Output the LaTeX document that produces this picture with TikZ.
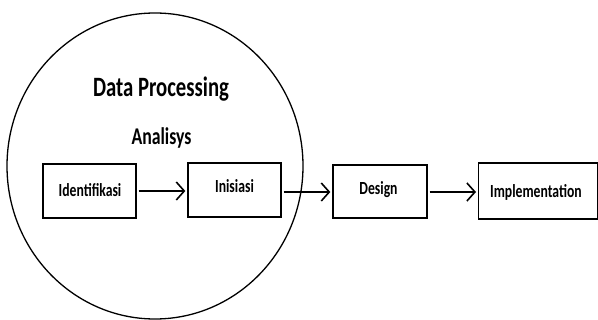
\documentclass[tikz,border=0pt]{standalone}
\usepackage{fontspec}
\usepackage{graphicx}
\setmainfont{Carlito}
\usetikzlibrary{arrows.meta}
\newcommand{\narrow}[1]{\scalebox{0.74}[1]{#1}}
\begin{document}
\begin{tikzpicture}[x=1pt,y=-1pt,
  stage/.style={draw=black, line width=1.3pt, rectangle, inner sep=0pt},
  stagetext/.style={anchor=base, inner sep=0pt, font=\bfseries\fontsize{18.5}{21}\selectfont},
  flow/.style={line width=1.6pt, -{Straight Barb[length=8pt,width=18pt,line width=1.6pt]}},
  title/.style={anchor=base, inner sep=0pt, font=\bfseries\fontsize{28}{32}\selectfont},
  subtitle/.style={anchor=base, inner sep=0pt, font=\bfseries\fontsize{24}{28}\selectfont}]
  \useasboundingbox (0,0) rectangle (598,320);
  % the data processing scope
  \draw[line width=1.3pt] (155,166) ellipse [x radius=148, y radius=153];
  \node[title] (dp) at (161,97) {\narrow{Data Processing}};
  \node[subtitle] (an) at (161.5,145) {\narrow{Analisys}};
  % pipeline stages
  \node[stage, minimum width=93pt, minimum height=54pt] (idf) at (89.5,191) {};
  \node[stage, minimum width=93pt, minimum height=54pt] (ini) at (234.5,190) {};
  \node[stage, minimum width=94pt, minimum height=53pt] (des) at (380,191.5) {};
  \node[stage, minimum width=119pt, minimum height=56pt, anchor=west] (imp) at (478,191) {};
  \node[stagetext] (idft) at (90,197) {\narrow{Identifikasi}};
  \node[stagetext] (init) at (234.5,193) {\narrow{Inisiasi}};
  \node[stagetext] (dest) at (378.5,195) {\narrow{Design}};
  \node[stagetext, anchor=base west] (impt) at (490,198) {\narrow{Implementation}};
  % connectors
  \draw[flow] ([xshift=2pt]idf.east) -- ([xshift=-2pt]ini.west |- idf.east);
  \draw[flow] ([xshift=2pt]ini.east |- 0,192) -- ([xshift=-2pt]des.west |- 0,192);
  \draw[flow] ([xshift=2pt]des.east |- 0,192) -- ([xshift=-2pt]imp.west |- 0,192);
\end{tikzpicture}
\end{document}
